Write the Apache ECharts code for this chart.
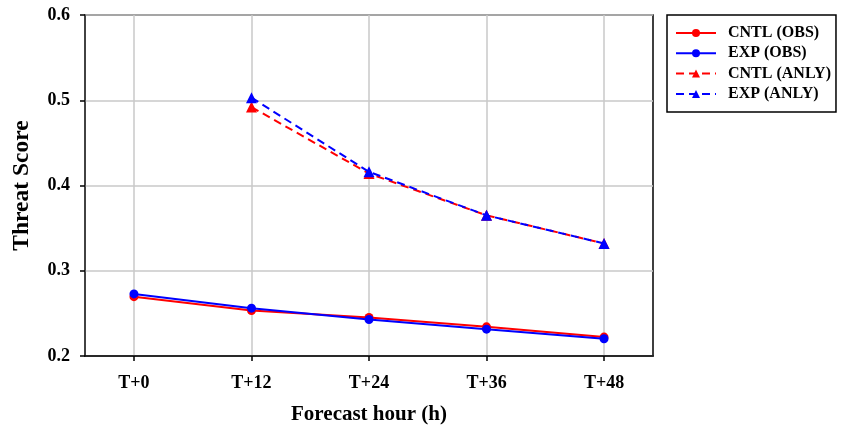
<!DOCTYPE html>
<html>
<head>
<meta charset="utf-8">
<script src="https://cdn.jsdelivr.net/npm/echarts@6/dist/echarts.min.js"></script>
<style>
  html, body { margin: 0; padding: 0; background: #ffffff; }
  #chart { width: 843px; height: 430px; }
</style>
</head>
<body>
<div id="chart"></div>
<script>
// Forecast lead times (hours) and their axis labels
const hours = [0, 12, 24, 36, 48];
const tickLabels = ['T+0', 'T+12', 'T+24', 'T+36', 'T+48'];

// Threat scores verified against observations
const cntlObs = [0.2696, 0.2533, 0.2451, 0.2342, 0.2222];
const expObs  = [0.2728, 0.2561, 0.2428, 0.2315, 0.2202];

// Threat scores verified against analyses (no value at T+0)
const cntlAnly = [null, 0.492, 0.414, 0.365, 0.332];
const expAnly  = [null, 0.503, 0.416, 0.365, 0.332];

const seriesNames = ['CNTL (OBS)', 'EXP (OBS)', 'CNTL (ANLY)', 'EXP (ANLY)'];

const FONT = '"Liberation Serif", "Times New Roman", serif';
const RED = '#ff0000';
const BLUE = '#0000ff';

function pairs(values) {
  const out = [];
  values.forEach((v, i) => { if (v !== null) out.push([hours[i], v]); });
  return out;
}

function lineSeries(name, values, color, symbol, size, dashed, z) {
  return {
    name: name,
    type: 'line',
    data: pairs(values),
    symbol: symbol,
    symbolSize: size,
    showSymbol: true,
    z: z,
    lineStyle: { color: color, width: 2, type: dashed ? [8, 5] : 'solid' },
    itemStyle: { color: color, borderWidth: 0 },
    emphasis: { disabled: true },
    animation: false
  };
}

const chart = echarts.init(document.getElementById('chart'), null, { renderer: 'canvas' });

chart.setOption({
  backgroundColor: '#ffffff',
  animation: false,
  grid: {
    left: 85, right: 190, top: 15, bottom: 73,
    show: true, borderColor: '#000000', borderWidth: 1.5, backgroundColor: 'transparent'
  },
  legend: {
    orient: 'vertical',
    left: 667, top: 15,
    data: seriesNames,
    itemWidth: 40, itemHeight: 10, itemGap: 4.3,
    padding: [10, 5, 10, 8],
    borderColor: '#000000', borderWidth: 1.5,
    backgroundColor: '#ffffff',
    textStyle: { fontFamily: FONT, fontWeight: 'bold', fontSize: 16, color: '#000000', padding: [0, 0, 0, 7] }
  },
  xAxis: {
    type: 'value',
    min: -5, max: 53,
    name: 'Forecast hour (h)',
    nameLocation: 'middle',
    nameGap: 48,
    nameTextStyle: { fontFamily: FONT, fontWeight: 'bold', fontSize: 21, color: '#000000' },
    axisLine: { show: true, onZero: false, lineStyle: { color: '#000000', width: 1.5 } },
    axisTick: { show: true, inside: false, length: 5, customValues: hours, lineStyle: { color: '#000000', width: 1.5 } },
    axisLabel: {
      customValues: hours,
      margin: 18,
      fontFamily: FONT, fontWeight: 'bold', fontSize: 18, color: '#000000',
      formatter: (v) => tickLabels[hours.indexOf(v)] || ''
    },
    splitLine: { show: true, lineStyle: { color: '#c8c8c8', width: 1.5 } }
  },
  yAxis: {
    type: 'value',
    min: 0.2, max: 0.6, interval: 0.1,
    name: 'Threat Score',
    nameLocation: 'middle',
    nameGap: 51,
    nameTextStyle: { fontFamily: FONT, fontWeight: 'bold', fontSize: 23.5, color: '#000000' },
    axisLine: { show: true, onZero: false, lineStyle: { color: '#444444', width: 1.5 } },
    axisTick: { show: true, inside: false, length: 5, lineStyle: { color: '#000000', width: 1.5 } },
    axisLabel: {
      margin: 15,
      fontFamily: FONT, fontWeight: 'bold', fontSize: 18, color: '#000000',
      formatter: (v) => v.toFixed(1)
    },
    splitLine: { show: true, lineStyle: { color: '#c8c8c8', width: 1.5 } }
  },
  series: [
    lineSeries(seriesNames[0], cntlObs, RED, 'circle', 9, false, 3),
    lineSeries(seriesNames[1], expObs, BLUE, 'circle', 9, false, 4),
    lineSeries(seriesNames[2], cntlAnly, RED, 'triangle', 11, true, 3),
    lineSeries(seriesNames[3], expAnly, BLUE, 'triangle', 11, true, 4)
  ]
});
</script>
</body>
</html>
